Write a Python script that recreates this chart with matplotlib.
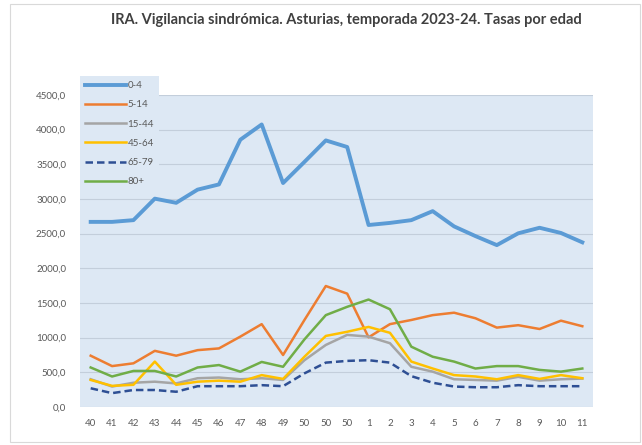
"""IRA syndromic surveillance, Asturias 2023-24: weekly rates by age group."""

import matplotlib
matplotlib.use("Agg")
import matplotlib.pyplot as plt
from matplotlib.patches import Rectangle
from matplotlib.ticker import FuncFormatter, MultipleLocator

plt.rcParams["font.family"] = ["Lato", "DejaVu Sans"]

weeks = ["40", "41", "42", "43", "44", "45", "46", "47", "48", "49",
         "50", "50", "50", "1", "2", "3", "4", "5", "6", "7", "8", "9",
         "10", "11"]

age_labels = ["0-4", "5-14", "15-44", "45-64", "65-79", "80+"]

rate_0_4 = [2670, 2670, 2695, 3005, 2945, 3135, 3210, 3855, 4075, 3230,
            3535, 3845, 3750, 2625, 2655, 2695, 2825, 2605, 2465, 2335,
            2505, 2585, 2510, 2375]
rate_5_14 = [740, 590, 630, 810, 740, 820, 845, 1015, 1195, 750,
             1255, 1745, 1635, 1005, 1195, 1255, 1325, 1360, 1280, 1145,
             1180, 1125, 1245, 1165]
rate_15_44 = [400, 295, 350, 365, 340, 415, 425, 400, 415, 390,
              675, 895, 1040, 1015, 920, 580, 510, 400, 390, 380,
              435, 380, 400, 410]
rate_45_64 = [390, 305, 320, 655, 320, 365, 380, 365, 460, 405,
              725, 1025, 1085, 1155, 1070, 655, 555, 460, 440, 400,
              460, 405, 460, 415]
rate_65_79 = [270, 200, 245, 245, 220, 300, 300, 300, 315, 300,
              485, 640, 665, 675, 640, 445, 350, 295, 285, 285,
              315, 300, 300, 300]
rate_80 = [570, 440, 520, 520, 440, 570, 605, 510, 650, 580,
           975, 1325, 1445, 1550, 1410, 870, 725, 655, 555, 590,
           590, 535, 510, 555]

series = [rate_0_4, rate_5_14, rate_15_44, rate_45_64, rate_65_79, rate_80]
colors = ["#5B9BD5", "#ED7D31", "#A5A5A5", "#FFC000", "#2E4F94", "#70AD47"]
widths = [2.8, 1.8, 1.8, 1.8, 1.8, 1.8]
styles = ["-", "-", "-", "-", (0, (3, 1.6)), "-"]

BG = "#DDE8F4"
TXT = "#595959"

fig = plt.figure(figsize=(6.42, 4.45), dpi=100)
fig.patch.set_facecolor("white")
fig.patches.append(Rectangle((10 / 642, 3 / 445), 630 / 642, 438 / 445,
                             transform=fig.transFigure, fill=False,
                             edgecolor="#D9D9D9", linewidth=0.8))

ax = fig.add_axes([80 / 642, 1 - 407 / 445, 513 / 642, 312 / 445])
ax.set_facecolor(BG)
for spine in ax.spines.values():
    spine.set_visible(False)

x = list(range(len(weeks)))
for vals, lab, col, lw, ls in zip(series, age_labels, colors, widths, styles):
    ax.plot(x, vals, color=col, linewidth=lw, linestyle=ls, label=lab,
            solid_joinstyle="round", zorder=3)

ax.set_xlim(-0.5, len(weeks) - 0.5)
ax.set_ylim(0, 4500)
ax.yaxis.set_major_locator(MultipleLocator(500))
ax.yaxis.set_major_formatter(
    FuncFormatter(lambda v, _: f"{v:.1f}".replace(".", ",")))
ax.set_xticks(x)
ax.set_xticklabels(weeks)
ax.tick_params(axis="both", length=0, labelsize=7, labelcolor=TXT)
ax.tick_params(axis="x", pad=9)
ax.tick_params(axis="y", pad=10)
ax.grid(axis="y", color="#C3CEDB", linewidth=0.8, zorder=0)
ax.set_axisbelow(True)

leg = ax.legend(loc="upper left", bbox_to_anchor=(0.0, 1.06), frameon=True,
                fontsize=7, handlelength=4.2, handletextpad=0.2,
                labelspacing=1.05, borderpad=0.5, borderaxespad=0.0)
leg.get_frame().set_facecolor(BG)
leg.get_frame().set_edgecolor("none")
leg.get_frame().set_boxstyle("square", pad=0)
leg.get_frame().set_alpha(1)
for t in leg.get_texts():
    t.set_color(TXT)

fig.text(346 / 642, 1 - 20 / 445,
         "IRA. Vigilancia sindrómica. Asturias, temporada 2023-24. Tasas por edad",
         ha="center", va="center", fontsize=10.5, fontweight="bold",
         color="#404040")

fig.savefig("out.png", dpi=100)
